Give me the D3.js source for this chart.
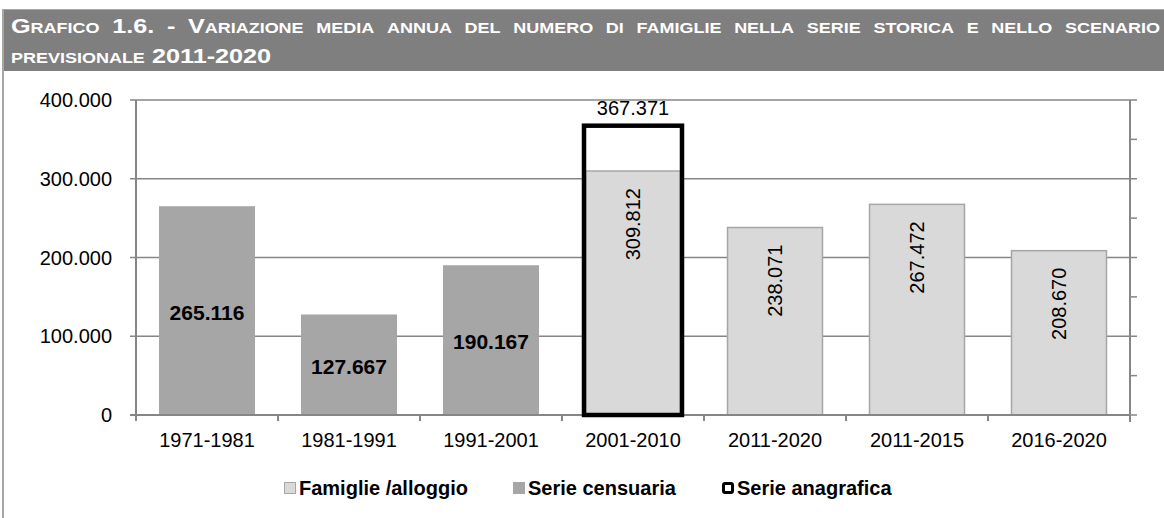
<!DOCTYPE html>
<html>
<head>
<meta charset="utf-8">
<script src="https://cdn.jsdelivr.net/npm/d3@7"></script>
<style>
  body { margin: 0; background: #fff; font-family: "Liberation Sans", Arial, sans-serif; }
</style>
</head>
<body>
<div id="chart"></div>
<script>
// categories and series
const categories = ["1971-1981", "1981-1991", "1991-2001", "2001-2010", "2011-2020", "2011-2015", "2016-2020"];
const censuaria = [265116, 127667, 190167, null, null, null, null];
const famiglie = [null, null, null, 309812, 238071, 267472, 208670];
const anagrafica = [null, null, null, 367371, null, null, null];
const yTicks = [0, 100000, 200000, 300000, 400000];
const titleLines = [
  "Grafico 1.6. - Variazione media annua del numero di famiglie nella serie storica e nello scenario",
  "previsionale 2011-2020"
];
const legendItems = ["Famiglie /alloggio", "Serie censuaria", "Serie anagrafica"];

const W = 1164, H = 518;
const margin = { top: 100, left: 136, right: 34, bottom: 103 };
const fmt = v => d3.format(",")(v).replace(/,/g, ".");

const svg = d3.select("#chart").append("svg").attr("width", W).attr("height", H);

// header band
svg.append("rect").attr("x", 3).attr("y", 9).attr("width", W).attr("height", 62).attr("fill", "#7f7f7f");
svg.append("line").attr("x1", 3).attr("x2", W).attr("y1", 9.5).attr("y2", 9.5).attr("stroke", "#a6a6a6").attr("stroke-width", 1);
svg.append("line").attr("x1", 3).attr("x2", 3).attr("y1", 9).attr("y2", H).attr("stroke", "#a6a6a6").attr("stroke-width", 2);

// small caps by hand: capitals and digits big, lowercase shown as smaller capitals
// the title in the picture is stretched sideways, so each word gets a x-scale
const stretch = 1.2;
function smallCapsWord(sel, word) {
  const parts = word.match(/[a-zàèéìòù]+|[^a-zàèéìòù]+/g);
  parts.forEach(p => {
    const low = /[a-zàèéìòù]/.test(p[0]);
    sel.append("tspan").attr("font-size", low ? 15 : 21).text(p.toUpperCase());
  });
}
function titleLine(text, yPos, justify) {
  const words = text.split(" ");
  const tg = svg.append("g").attr("fill", "#fff").attr("font-weight", "bold");
  const nodes = words.map(w => {
    const t = tg.append("text");
    smallCapsWord(t, w);
    return t;
  });
  const widths = nodes.map(n => n.node().getComputedTextLength() * stretch);
  const gap = justify ? (1160 - 11 - d3.sum(widths)) / (words.length - 1) : 7;
  let cx = 11;
  nodes.forEach((n, i) => {
    n.attr("transform", `translate(${cx},${yPos}) scale(${stretch},1)`);
    cx += widths[i] + gap;
  });
}
titleLine(titleLines[0], 33, true);
titleLine(titleLines[1], 63, false);

const x = d3.scaleBand().domain(categories)
  .range([margin.left, W - margin.right])
  .paddingInner(0.324).paddingOuter(0.162);
const y = d3.scaleLinear().domain([0, 400000]).range([H - margin.bottom, margin.top]);

const grey = "#868686";
const g = svg.append("g");

// gridlines with left ticks
g.selectAll(".grid").data(yTicks).join("line")
  .attr("x1", margin.left - 6).attr("x2", W - margin.right + 7)
  .attr("y1", d => y(d)).attr("y2", d => y(d))
  .attr("stroke", grey).attr("stroke-width", 1.5);

// right axis minor ticks
g.selectAll(".minor").data(d3.range(50000, 400000, 100000)).join("line")
  .attr("x1", W - margin.right).attr("x2", W - margin.right + 7)
  .attr("y1", d => y(d)).attr("y2", d => y(d))
  .attr("stroke", grey).attr("stroke-width", 1.5);

// axes lines
g.append("line").attr("x1", margin.left).attr("x2", margin.left)
  .attr("y1", y(400000)).attr("y2", y(0)).attr("stroke", grey).attr("stroke-width", 2);
g.append("line").attr("x1", W - margin.right).attr("x2", W - margin.right)
  .attr("y1", y(400000)).attr("y2", y(0) + 7).attr("stroke", grey).attr("stroke-width", 2);

// y labels
g.selectAll(".ylab").data(yTicks).join("text")
  .attr("x", 112).attr("y", d => y(d)).attr("dy", "0.35em")
  .attr("text-anchor", "end").attr("font-size", 20).attr("fill", "#000")
  .text(d => d === 0 ? "0" : fmt(d));

// bars: serie censuaria
const idx = d3.range(categories.length);
g.selectAll(".cens").data(idx.filter(i => censuaria[i] != null)).join("rect")
  .attr("x", i => x(categories[i])).attr("width", x.bandwidth())
  .attr("y", i => y(censuaria[i])).attr("height", i => y(0) - y(censuaria[i]))
  .attr("fill", "#a6a6a6");

// bars: famiglie/alloggio
g.selectAll(".fam").data(idx.filter(i => famiglie[i] != null)).join("rect")
  .attr("x", i => x(categories[i]) + 0.5).attr("width", x.bandwidth() - 1)
  .attr("y", i => y(famiglie[i])).attr("height", i => y(0) - y(famiglie[i]))
  .attr("fill", "#d9d9d9").attr("stroke", "#a6a6a6").attr("stroke-width", 1.5);

// x axis line + ticks
g.append("line").attr("x1", margin.left - 6).attr("x2", W - margin.right)
  .attr("y1", y(0)).attr("y2", y(0)).attr("stroke", grey).attr("stroke-width", 2);
g.selectAll(".xtick").data(d3.range(categories.length + 1)).join("line")
  .attr("x1", i => margin.left + i * x.step()).attr("x2", i => margin.left + i * x.step())
  .attr("y1", y(0)).attr("y2", y(0) + 6)
  .attr("stroke", grey).attr("stroke-width", 2);

// bars: serie anagrafica (outline)
g.selectAll(".anag").data(idx.filter(i => anagrafica[i] != null)).join("rect")
  .attr("x", i => x(categories[i]) - 1).attr("width", x.bandwidth() + 2)
  .attr("y", i => y(anagrafica[i])).attr("height", i => y(0) - y(anagrafica[i]))
  .attr("fill", "none").attr("stroke", "#000").attr("stroke-width", 4.5);

// x labels
g.selectAll(".xlab").data(categories).join("text")
  .attr("x", d => x(d) + x.bandwidth() / 2).attr("y", y(0) + 25).attr("dy", "0.35em")
  .attr("text-anchor", "middle").attr("font-size", 20).text(d => d);

// value labels
g.selectAll(".lcens").data(idx.filter(i => censuaria[i] != null)).join("text")
  .attr("x", i => x(categories[i]) + x.bandwidth() / 2)
  .attr("y", i => (y(censuaria[i]) + y(0)) / 2 + 2).attr("dy", "0.35em")
  .attr("text-anchor", "middle").attr("font-size", 21).attr("font-weight", "bold")
  .text(i => fmt(censuaria[i]));

g.selectAll(".lfam").data(idx.filter(i => famiglie[i] != null)).join("text")
  .attr("transform", i => `translate(${x(categories[i]) + x.bandwidth() / 2},${y(famiglie[i]) + 17}) rotate(-90)`)
  .attr("dy", "0.35em").attr("text-anchor", "end").attr("font-size", 20)
  .text(i => fmt(famiglie[i]));

g.selectAll(".lanag").data(idx.filter(i => anagrafica[i] != null)).join("text")
  .attr("x", i => x(categories[i]) + x.bandwidth() / 2)
  .attr("y", i => y(anagrafica[i]) - 18).attr("dy", "0.35em")
  .attr("text-anchor", "middle").attr("font-size", 20)
  .text(i => fmt(anagrafica[i]));

// legend
const legY = 488;
const leg = [
  { x: 284, fill: "#d9d9d9", stroke: "#a6a6a6", sw: 1 },
  { x: 513, fill: "#a6a6a6", stroke: "#a6a6a6", sw: 1 },
  { x: 722, fill: "#fff", stroke: "#000", sw: 3 }
];
leg.forEach((l, i) => {
  svg.append("rect").attr("x", l.x + l.sw / 2).attr("y", legY - 6 + l.sw / 2)
    .attr("width", 12 - l.sw).attr("height", 12 - l.sw).attr("rx", i === 2 ? 1.5 : 0)
    .attr("fill", l.fill).attr("stroke", l.stroke).attr("stroke-width", l.sw);
  svg.append("text").attr("x", l.x + 15).attr("y", legY).attr("dy", "0.35em")
    .attr("font-size", 20).attr("font-weight", "bold").text(legendItems[i]);
});
</script>
</body>
</html>
